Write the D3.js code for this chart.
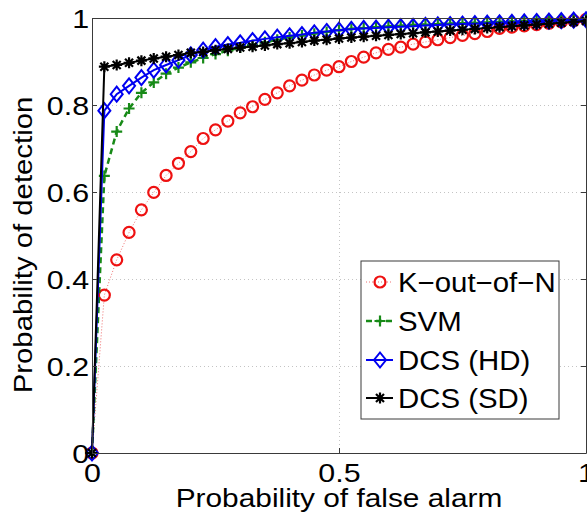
<!DOCTYPE html>
<meta charset='utf-8'>
<style>
    body { margin: 0; background: #fff; }
    svg { display: block; font-family: 'Liberation Sans', Arial, Helvetica, sans-serif; }
</style>
<body>
    <script src='https://d3js.org/d3.v7.min.js'></script>
    <script>
        // data
        var pfa = [0, 0.025, 0.05, 0.075, 0.1, 0.125, 0.15, 0.175, 0.2, 0.225,
                   0.25, 0.275, 0.3, 0.325, 0.35, 0.375, 0.4, 0.425, 0.45, 0.475,
                   0.5, 0.525, 0.55, 0.575, 0.6, 0.625, 0.65, 0.675, 0.7, 0.725,
                   0.75, 0.775, 0.8, 0.825, 0.85, 0.875, 0.9, 0.925, 0.95, 0.975, 1];

        var kOutOfN = [0, 0.363, 0.444, 0.507, 0.559, 0.599, 0.638, 0.666, 0.693, 0.723,
                       0.743, 0.763, 0.782, 0.796, 0.813, 0.828, 0.844, 0.857, 0.869, 0.880,
                       0.888, 0.900, 0.910, 0.920, 0.928, 0.933, 0.940, 0.945, 0.950, 0.955,
                       0.960, 0.964, 0.969, 0.976, 0.979, 0.982, 0.985, 0.988, 0.991, 0.994, 0.997];

        var svm = [0, 0.637, 0.739, 0.792, 0.828, 0.852, 0.872, 0.886, 0.898, 0.908,
                   0.917, 0.925, 0.932, 0.938, 0.944, 0.950, 0.955, 0.960, 0.964, 0.968,
                   0.972, 0.975, 0.977, 0.979, 0.981, 0.982, 0.984, 0.985, 0.986, 0.987,
                   0.988, 0.989, 0.990, 0.991, 0.992, 0.993, 0.994, 0.995, 0.996, 0.997, 0.998];

        var dcsHD = [0, 0.787, 0.825, 0.844, 0.863, 0.880, 0.892, 0.903, 0.915, 0.926,
                     0.934, 0.939, 0.943, 0.948, 0.952, 0.956, 0.959, 0.962, 0.966, 0.969,
                     0.972, 0.974, 0.976, 0.977, 0.979, 0.980, 0.981, 0.983, 0.984, 0.985,
                     0.986, 0.987, 0.988, 0.989, 0.990, 0.991, 0.992, 0.993, 0.994, 0.995, 0.996];

        var dcsSD = [0, 0.888, 0.892, 0.897, 0.902, 0.907, 0.911, 0.915, 0.920, 0.922,
                     0.926, 0.929, 0.932, 0.934, 0.937, 0.940, 0.942, 0.945, 0.948, 0.950,
                     0.953, 0.955, 0.957, 0.959, 0.961, 0.963, 0.965, 0.967, 0.969, 0.971,
                     0.973, 0.975, 0.977, 0.979, 0.981, 0.983, 0.985, 0.987, 0.989, 0.991, 0.993];

        var seriesNames = ['K\u2212out\u2212of\u2212N', 'SVM', 'DCS (HD)', 'DCS (SD)'];
        var xTicks = [0, 0.5, 1];
        var yTicks = [0, 0.2, 0.4, 0.6, 0.8, 1];
        var xTickLabels = ['0', '0.5', '1'];
        var yTickLabels = ['0', '0.2', '0.4', '0.6', '0.8', '1'];

        var width = 587,
            height = 518;
        var plotLeft = 92, plotRight = 586, plotTop = 18, plotBottom = 453;

        var svg = d3.select('body').append('svg')
            .attr('width', width)
            .attr('height', height);

        var x = d3.scaleLinear().domain([0, 1]).range([plotLeft, plotRight]);
        var y = d3.scaleLinear().domain([0, 1]).range([plotBottom, plotTop]);

        // grid
        svg.append('g')
            .attr('transform', 'translate(' + plotLeft + ',0)')
            .call(d3.axisLeft(y).tickValues([0.2, 0.4, 0.6, 0.8]).tickSize(-(plotRight - plotLeft)).tickFormat(''))
            .call(function(g) { g.select('.domain').remove(); })
            .selectAll('line').attr('stroke', '#c4c4c4').attr('stroke-dasharray', '1,3');
        svg.append('g')
            .attr('transform', 'translate(0,' + plotBottom + ')')
            .call(d3.axisBottom(x).tickValues([0.5]).tickSize(-(plotBottom - plotTop)).tickFormat(''))
            .call(function(g) { g.select('.domain').remove(); })
            .selectAll('line').attr('stroke', '#c4c4c4').attr('stroke-dasharray', '1,3');

        // curves
        var series = [
            { name: seriesNames[0], values: kOutOfN, color: '#ee1111', marker: 'circle' },
            { name: seriesNames[1], values: svm, color: '#178a17', marker: 'plus' },
            { name: seriesNames[2], values: dcsHD, color: '#0000f0', marker: 'diamond' },
            { name: seriesNames[3], values: dcsSD, color: '#000000', marker: 'star' }
        ];

        function lineStyle(sel, s) {
            if (s.marker === 'circle') {
                sel.attr('stroke', '#f07070').attr('stroke-width', 1).attr('stroke-dasharray', '1,2');
            } else if (s.marker === 'plus') {
                sel.attr('stroke', s.color).attr('stroke-width', 2.5).attr('stroke-dasharray', '6,4');
            } else {
                sel.attr('stroke', s.color).attr('stroke-width', 2);
            }
        }

        function drawMarker(g, s) {
            if (s.marker === 'circle') {
                g.append('circle').attr('r', 5.5).attr('fill', 'none')
                    .attr('stroke', s.color).attr('stroke-width', 2.2);
            } else if (s.marker === 'plus') {
                g.append('path').attr('d', 'M-5.5,0H5.5M0,-5.5V5.5')
                    .attr('stroke', s.color).attr('stroke-width', 2.2);
            } else if (s.marker === 'diamond') {
                g.append('path').attr('d', 'M0,-7.5L6,0L0,7.5L-6,0Z').attr('fill', 'none')
                    .attr('stroke', s.color).attr('stroke-width', 2);
            } else {
                g.append('path').attr('d', 'M-5.5,0H5.5M0,-5.5V5.5M-4,-4L4,4M-4,4L4,-4')
                    .attr('stroke', s.color).attr('stroke-width', 2.2);
            }
        }

        var line = d3.line()
            .x(function(d) { return x(d[0]); })
            .y(function(d) { return y(d[1]); });

        series.forEach(function(s) {
            var pts = pfa.map(function(p, i) { return [p, s.values[i]]; });
            var g = svg.append('g');
            g.append('path').datum(pts).attr('d', line).attr('fill', 'none')
                .call(lineStyle, s);
            g.selectAll('g.m').data(pts).enter().append('g')
                .attr('class', 'm')
                .attr('transform', function(d) { return 'translate(' + x(d[0]) + ',' + y(d[1]) + ')'; })
                .each(function() { drawMarker(d3.select(this), s); });
        });

        // axes box with inward ticks
        function styleAxis(g) {
            g.select('.domain').attr('stroke', '#3a3a3a');
            g.selectAll('.tick line').attr('stroke', '#3a3a3a');
        }
        svg.append('g').attr('transform', 'translate(0,' + plotTop + ')')
            .call(d3.axisTop(x).tickValues(xTicks).tickSize(-5).tickSizeOuter(0).tickFormat(''))
            .call(styleAxis);
        svg.append('g').attr('transform', 'translate(' + plotRight + ',0)')
            .call(d3.axisRight(y).tickValues(yTicks).tickSize(-5).tickSizeOuter(0).tickFormat(''))
            .call(styleAxis);

        var xAxis = svg.append('g').attr('transform', 'translate(0,' + plotBottom + ')')
            .call(d3.axisBottom(x).tickValues(xTicks).tickSize(-5).tickSizeOuter(0)
                .tickFormat(function(d, i) { return xTickLabels[i]; }))
            .call(styleAxis);
        xAxis.selectAll('text')
            .attr('fill', '#000').attr('font-size', 26).attr('font-family', null)
            .attr('y', 29.5).attr('dy', null)
            .attr('transform', 'scale(1.17,1)')
            .attr('x', 0);

        var yAxis = svg.append('g').attr('transform', 'translate(' + plotLeft + ',0)')
            .call(d3.axisLeft(y).tickValues(yTicks).tickSize(-5).tickSizeOuter(0)
                .tickFormat(function(d, i) { return yTickLabels[i]; }))
            .call(styleAxis);
        yAxis.selectAll('text')
            .attr('fill', '#000').attr('font-size', 26).attr('font-family', null)
            .attr('x', -2.5).attr('dy', '0.36em')
            .attr('transform', 'scale(1.17,1)');

        // axis labels
        svg.append('text')
            .attr('transform', 'translate(339,507) scale(1.17,1)')
            .attr('text-anchor', 'middle')
            .attr('font-size', 25.5)
            .text('Probability of false alarm');
        svg.append('text')
            .attr('transform', 'translate(32,245) rotate(-90) scale(1.15,1)')
            .attr('text-anchor', 'middle')
            .attr('font-size', 25.5)
            .text('Probability of detection');

        // legend
        var legend = svg.append('g');
        legend.append('rect')
            .attr('x', 361).attr('y', 261).attr('width', 198).attr('height', 158)
            .attr('fill', '#fff').attr('stroke', '#3a3a3a').attr('stroke-width', 1);
        var rowY = [282, 321, 360, 398];
        series.forEach(function(s, i) {
            var row = legend.append('g').attr('transform', 'translate(0,' + rowY[i] + ')');
            row.append('line').attr('x1', 366).attr('x2', 393).attr('y1', 0).attr('y2', 0)
                .call(lineStyle, s);
            drawMarker(row.append('g').attr('transform', 'translate(380,0)'), s);
            row.append('text')
                .attr('transform', 'translate(398,10) scale(1.05,1)')
                .attr('font-size', 28)
                .text(s.name);
        });
    </script>
</body>
